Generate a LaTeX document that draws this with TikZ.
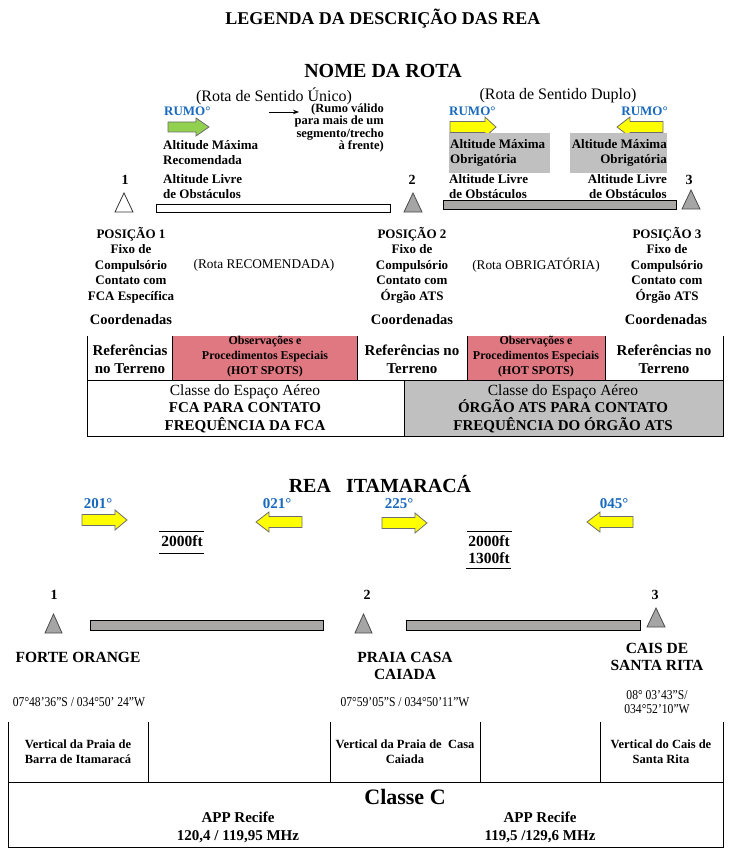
\documentclass[tikz,border=0pt]{standalone}
\usepackage{fontspec}
\setmainfont{Liberation Serif}
\newfontfamily\narrowserif[FakeStretch=0.86]{Liberation Serif}
\usetikzlibrary{arrows.meta}
\usepackage{xcolor}
\definecolor{rumoblue}{RGB}{25,105,190}
\definecolor{hotpink}{RGB}{224,120,130}
\definecolor{boxgray}{RGB}{192,192,192}
\definecolor{bargray}{RGB}{170,167,167}
\definecolor{trigray}{RGB}{165,165,165}
\definecolor{arrowgreen}{RGB}{146,208,80}
\definecolor{arrowyellow}{RGB}{255,255,0}
\definecolor{arrowedge}{RGB}{110,110,110}

\begin{document}
\begin{tikzpicture}[x=1pt, y=-1pt,
  every node/.style={inner sep=0pt},
  heading/.style={font=\bfseries\fontsize{20}{22}\selectfont},
  routelbl/.style={font=\fontsize{16}{18}\selectfont},
  rumo/.style={font=\bfseries\fontsize{13}{15}\selectfont, text=rumoblue},
  altlbl/.style={font=\bfseries\fontsize{13}{15}\selectfont},
  poslbl/.style={font=\bfseries\fontsize{13}{15.5}\selectfont, align=center},
  coordlbl/.style={font=\bfseries\fontsize{14.5}{16}\selectfont},
  cell/.style={font=\bfseries\fontsize{15}{17.5}\selectfont, align=center},
  hotcell/.style={font=\bfseries\fontsize{12}{15}\selectfont, align=center},
  num/.style={font=\bfseries\fontsize{14}{16}\selectfont},
  hdg/.style={font=\bfseries\fontsize{15}{17}\selectfont, text=rumoblue},
  place/.style={font=\bfseries\fontsize{15.5}{17}\selectfont, align=center},
  geo/.style={font=\narrowserif\fontsize{13.5}{14.5}\selectfont, align=center},
  vcell/.style={font=\bfseries\fontsize{12.5}{15}\selectfont, align=center},
  tline/.style={line width=0.9pt},
  garrow/.style={fill=arrowgreen, draw=arrowedge, line width=0.8pt},
  yarrow/.style={fill=arrowyellow, draw=arrowedge, line width=0.8pt},
  triwhite/.style={fill=white, draw=black!80, line width=0.8pt},
  trigrey/.style={fill=trigray, draw=black!70, line width=0.8pt},
  bar/.style={draw=black, line width=0.9pt}]

  \path[fill=white] (0,0) rectangle (735,853);

  %--- Titles ---
  \node[font=\bfseries\fontsize{18}{20}\selectfont] (legenda) at (383,19) {LEGENDA DA DESCRIÇÃO DAS REA};
  \node[heading] (nome) at (383,71) {NOME DA ROTA};
  \node[routelbl] (unico) at (274,96) {(Rota de Sentido Único)};
  \node[routelbl] (duplo) at (558,96) {(Rota de Sentido Duplo)};

  %--- One-way route ---
  \node[rumo, anchor=west] (rumoA) at (164,111) {RUMO°};
  \draw[garrow, shift={(168,127)}] (0,-5) -- (28,-5) -- (28,-9) -- (41,0) -- (28,9) -- (28,5) -- (0,5) -- cycle;
  \coordinate (noteTail) at (269,112);
  \coordinate (noteTip) at (299,112);
  \draw[-{Stealth[length=6pt,width=4.5pt]}, line width=0.9pt] (noteTail) -- (noteTip);
  \node[font=\bfseries\fontsize{12.5}{9.7}\selectfont, align=right, anchor=east] (note) at (384,128)
    {(Rumo válido\\para mais de um\\segmento/trecho\\à frente)};
  \node[altlbl, align=left, anchor=west] (maxRec) at (163,152.5) {Altitude Máxima\\Recomendada};
  \node[altlbl, align=left, anchor=west] (livreA) at (163,187) {Altitude Livre\\de Obstáculos};
  \node[num] (p1) at (125,180) {1};
  \draw[triwhite] (115,212) -- (124,193) -- (133,212) -- cycle;
  \draw[bar, fill=white] (156,204) rectangle (390,212);
  \node[num] (p2) at (412,180) {2};
  \draw[trigrey] (404,212) -- (413,193) -- (422,212) -- cycle;

  %--- Two-way route ---
  \node[rumo, anchor=west] (rumoB) at (449,111) {RUMO°};
  \draw[yarrow, shift={(450,127)}] (0,-5.5) -- (35,-5.5) -- (35,-10) -- (46,0) -- (35,10) -- (35,5.5) -- (0,5.5) -- cycle;
  \fill[boxgray] (449,133) rectangle (550,173);
  \node[altlbl, align=left, anchor=west] (maxObA) at (450,152.5) {Altitude Máxima\\Obrigatória};
  \node[rumo, anchor=east] (rumoC) at (668,111) {RUMO°};
  \draw[yarrow, shift={(663,127)}, xscale=-1] (0,-5.5) -- (33,-5.5) -- (33,-10) -- (46,0) -- (33,10) -- (33,5.5) -- (0,5.5) -- cycle;
  \fill[boxgray] (570,133) rectangle (667,173);
  \node[altlbl, align=right, anchor=east] (maxObB) at (667,152.5) {Altitude Máxima\\Obrigatória};
  \node[altlbl, align=left, anchor=west] (livreB) at (449,187) {Altitude Livre\\de Obstáculos};
  \node[altlbl, align=right, anchor=east] (livreC) at (667,187) {Altitude Livre\\de Obstáculos};
  \draw[bar, fill=bargray] (443,200) rectangle (676,209);
  \node[num] (p3) at (689,180) {3};
  \draw[trigrey] (682,209) -- (691,190) -- (700,209) -- cycle;

  %--- Positions ---
  \node[poslbl] (pos1) at (131,265) {POSIÇÃO 1\\Fixo de\\Compulsório\\Contato com\\FCA Específica};
  \node[coordlbl] (coord1) at (131,320) {Coordenadas};
  \node[font=\fontsize{13.3}{15}\selectfont] (rec) at (264,265) {(Rota RECOMENDADA)};
  \node[poslbl] (pos2) at (412,265) {POSIÇÃO 2\\Fixo de\\Compulsório\\Contato com\\Órgão ATS};
  \node[coordlbl] (coord2) at (412,320) {Coordenadas};
  \node[font=\fontsize{13.3}{15}\selectfont] (obr) at (536,265) {(Rota OBRIGATÓRIA)};
  \node[poslbl] (pos3) at (667,265) {POSIÇÃO 3\\Fixo de\\Compulsório\\Contato com\\Órgão ATS};
  \node[coordlbl] (coord3) at (666,320) {Coordenadas};

  %--- Legend table ---
  \fill[hotpink] (172,336) rectangle (357,380);
  \fill[hotpink] (467,336) rectangle (605,380);
  \fill[boxgray] (404,380) rectangle (723,436);
  \draw[tline] (87,336) -- (87,436) -- (723,436) -- (723,336);
  \draw[tline] (87,380) -- (723,380);
  \foreach \cx in {172,357,467,605}
    \draw[tline] (\cx,336) -- (\cx,380);
  \draw[tline] (404,380) -- (404,436);
  \node[cell] (ref1) at (130,359.5) {Referências\\no Terreno};
  \node[hotcell] (obs1) at (265,357) {Observações e\\Procedimentos Especiais\\(HOT SPOTS)};
  \node[cell] (ref2) at (412,359.5) {Referências no\\Terreno};
  \node[hotcell] (obs2) at (536,357) {Observações e\\Procedimentos Especiais\\(HOT SPOTS)};
  \node[cell] (ref3) at (664,359.5) {Referências no\\Terreno};
  \node[cell] (classeA) at (245,408.5) {{\mdseries\fontsize{15.5}{17.5}\selectfont Classe do Espaço Aéreo}\\FCA PARA CONTATO\\FREQUÊNCIA DA FCA};
  \node[cell] (classeB) at (563,408.5) {{\mdseries\fontsize{15.5}{17.5}\selectfont Classe do Espaço Aéreo}\\ÓRGÃO ATS PARA CONTATO\\FREQUÊNCIA DO ÓRGÃO ATS};

  %--- REA Itamaracá ---
  \node[heading] (rea) at (380,484) {REA\ \ \ ITAMARACÁ};
  \node[hdg] (h201) at (98,504) {201°};
  \draw[yarrow, shift={(82,520)}] (0,-5.5) -- (33,-5.5) -- (33,-10) -- (45,0) -- (33,10) -- (33,5.5) -- (0,5.5) -- cycle;
  \node[hdg] (h021) at (277,504) {021°};
  \draw[yarrow, shift={(302,522)}, xscale=-1] (0,-5.5) -- (33,-5.5) -- (33,-10) -- (46,0) -- (33,10) -- (33,5.5) -- (0,5.5) -- cycle;
  \node[hdg] (h225) at (399,504) {225°};
  \draw[yarrow, shift={(382,523)}] (0,-5.5) -- (33,-5.5) -- (33,-10) -- (45,0) -- (33,10) -- (33,5.5) -- (0,5.5) -- cycle;
  \node[hdg] (h045) at (614,504) {045°};
  \draw[yarrow, shift={(633,522)}, xscale=-1] (0,-5.5) -- (33,-5.5) -- (33,-10) -- (46,0) -- (33,10) -- (33,5.5) -- (0,5.5) -- cycle;

  \node[font=\bfseries\fontsize{15.5}{17.5}\selectfont] (alt1) at (182,541) {2000ft};
  \draw[line width=0.9pt] (159,531) -- (204,531) (159,553) -- (204,553);
  \node[font=\bfseries\fontsize{15.5}{17.5}\selectfont, align=center] (alt2) at (489,549.5) {2000ft\\1300ft};
  \draw[line width=0.9pt] (467,531) -- (512,531) (466,568) -- (511,568);

  \node[num] (q1) at (54,595) {1};
  \draw[trigrey] (45,633) -- (53.5,614) -- (62,633) -- cycle;
  \draw[bar, fill=bargray] (90,620) rectangle (323,630);
  \node[num] (q2) at (367,595) {2};
  \draw[trigrey] (355,633) -- (363.5,614) -- (372,633) -- cycle;
  \draw[bar, fill=bargray] (406,620) rectangle (640,630);
  \node[num] (q3) at (655,595) {3};
  \draw[trigrey] (647,627) -- (656,608) -- (665,627) -- cycle;

  \node[place] (forte) at (78,657) {FORTE ORANGE};
  \node[place] (praia) at (405,666) {PRAIA CASA\\CAIADA};
  \node[place] (cais) at (657,657) {CAIS DE\\SANTA RITA};
  \node[geo] (geo1) at (79,702) {07°48’36”S / 034°50’ 24”W};
  \node[geo] (geo2) at (405,702) {07°59’05”S / 034°50’11”W};
  \node[geo] (geo3) at (657,702) {08° 03’43”S/\\034°52’10”W};

  %--- Itamaracá table ---
  \draw[tline] (8,722) -- (8,847) -- (723,847) -- (723,722);
  \draw[tline] (8,782) -- (723,782);
  \foreach \cx in {148,330,480,600}
    \draw[tline] (\cx,722) -- (\cx,782);
  \node[vcell] (v1) at (78,752) {Vertical da Praia de\\Barra de Itamaracá};
  \node[vcell] (v2) at (405,752) {Vertical da Praia de\ \ Casa\\Caiada};
  \node[vcell] (v3) at (661,752) {Vertical do Cais de\\Santa Rita};
  \node[font=\bfseries\fontsize{22}{24}\selectfont] (classeC) at (405,797) {Classe C};
  \node[cell, font=\bfseries\fontsize{15}{18}\selectfont] (app1) at (238,827.5) {APP Recife\\120,4 / 119,95 MHz};
  \node[cell, font=\bfseries\fontsize{15}{18}\selectfont] (app2) at (540,827.5) {APP Recife\\119,5 /129,6 MHz};

\end{tikzpicture}
\end{document}
